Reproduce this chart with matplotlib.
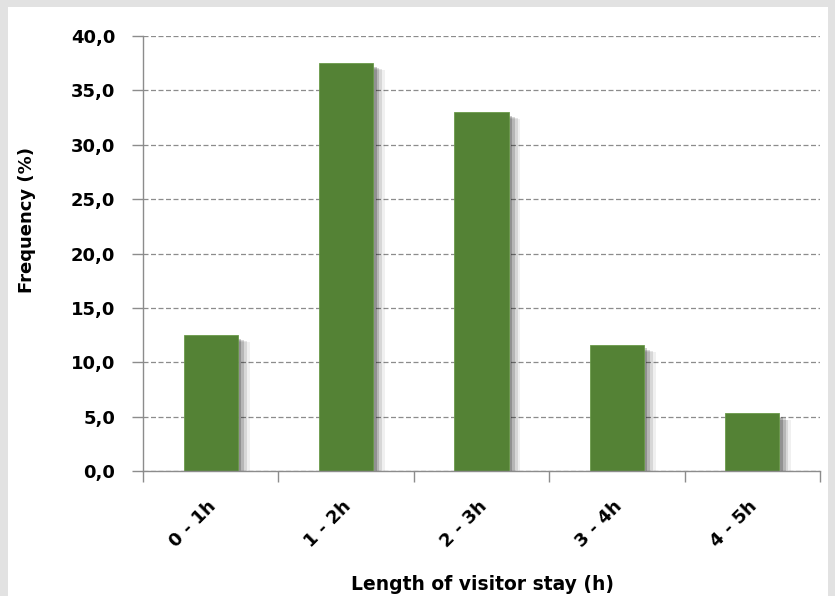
import matplotlib
matplotlib.use('Agg')
import matplotlib.pyplot as plt
import matplotlib.patheffects as pe
import matplotlib.transforms as mtransforms
from matplotlib.patches import Rectangle
from matplotlib.ticker import FixedLocator, FuncFormatter

categories = ['0 - 1h', '1 - 2h', '2 - 3h', '3 - 4h', '4 - 5h']
frequency = [12.5, 37.5, 33.0, 11.6, 5.3]
y_ticks = [0, 5, 10, 15, 20, 25, 30, 35, 40]

BAR_COLOR = '#548235'
GRID_COLOR = '#8c8c8c'
AXIS_COLOR = '#8c8c8c'
FONT_SIZE = 13

plt.rcParams['font.family'] = ['DejaVu Sans']
plt.rcParams['font.weight'] = 'bold'

fig = plt.figure(figsize=(8.35, 5.96), dpi=100)
fig.patch.set_facecolor('#e2e2e2')
# white chart area inside the grey frame
fig.patches.append(Rectangle((8 / 835, 0), 820 / 835, 1 - 7 / 596,
                             transform=fig.transFigure, facecolor='white',
                             edgecolor='none', zorder=-10))

ax = fig.add_axes([143 / 835, 1 - 471 / 596, (820 - 143) / 835, (471 - 36) / 596])
ax.set_facecolor('none')

x = list(range(len(categories)))
# soft drop shadow, faked with a few stacked offset copies
shadow = [pe.SimplePatchShadow(offset=(dx, -dy), shadow_rgbFace='#000000', alpha=a)
          for dx, dy, a in [(2.5, 2.5, 0.2), (4.5, 3.5, 0.15), (6.5, 4.5, 0.1), (8.5, 5.0, 0.06)]]
shadow.append(pe.Normal())
ax.bar(x, frequency, width=0.4, color=BAR_COLOR, edgecolor='#6a9a4a',
       linewidth=0.6, zorder=3, path_effects=shadow)

ax.set_xlim(-0.5, len(categories) - 0.5)
ax.set_ylim(0, 40)
ax.yaxis.set_major_locator(FixedLocator(y_ticks))
ax.yaxis.set_major_formatter(FuncFormatter(lambda v, _: f'{v:.1f}'.replace('.', ',')))
ax.grid(axis='y', color=GRID_COLOR, linestyle=(0, (4, 2)), linewidth=0.9, zorder=1)

ax.set_xticks(x)
ax.set_xticklabels(categories, rotation=45, ha='right', rotation_mode='anchor',
                   fontsize=FONT_SIZE, fontweight='bold')
ax.tick_params(axis='x', which='major', length=0, pad=19)
shift = mtransforms.ScaledTranslation(-4 / 100, 0, fig.dpi_scale_trans)
for lab in ax.get_xticklabels():
    lab.set_transform(lab.get_transform() + shift)
ax.set_xticks([i - 0.5 for i in range(len(categories) + 1)], minor=True)
ax.tick_params(axis='x', which='minor', length=8, color=AXIS_COLOR, width=1)
ax.tick_params(axis='y', length=8, color=AXIS_COLOR, width=1, labelsize=FONT_SIZE, pad=12)
for lab in ax.get_yticklabels():
    lab.set_fontweight('bold')

for side in ['top', 'right']:
    ax.spines[side].set_visible(False)
for side in ['left', 'bottom']:
    ax.spines[side].set_color(AXIS_COLOR)
    ax.spines[side].set_linewidth(1)
    ax.spines[side].set_zorder(4)

ax.set_ylabel('Frequency (%)', fontsize=FONT_SIZE, fontweight='bold', va='center')
ax.yaxis.set_label_coords(-0.171, 0.577)
ax.set_xlabel('Length of visitor stay (h)', fontsize=13.5, fontweight='bold', va='center')
ax.xaxis.set_label_coords(0.502, -0.26)

fig.savefig('out.png', dpi=100, facecolor=fig.get_facecolor())
